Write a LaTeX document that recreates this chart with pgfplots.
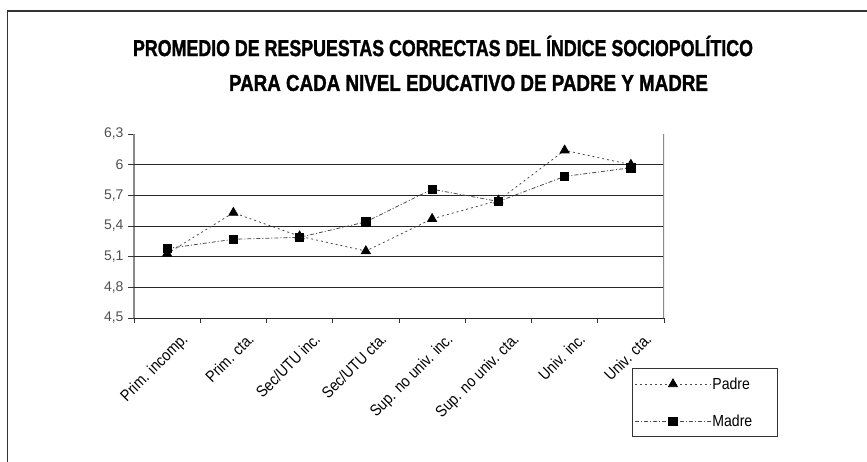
\documentclass[border=0pt]{standalone}
\usepackage{fontspec}
\setmainfont{Liberation Sans}
\newfontfamily\cond{Liberation Sans}[FakeStretch=0.88]
\newfontfamily\titlefont{Liberation Sans}[UprightFont=* Bold, FakeBold=1.5]
\usepackage{graphicx}
\usepackage{pgfplots}
\pgfplotsset{compat=1.18}
\definecolor{lgray}{HTML}{8A8A8A}
\definecolor{tgray}{HTML}{505050}
\definecolor{lnc}{HTML}{4A4A4A}
\begin{document}
\begin{tikzpicture}
\path[use as bounding box] (0,0) rectangle (867pt,-462pt);
\draw[line width=1.5pt,black!80] (7.5pt,-462pt) -- (7.5pt,-11pt) -- (867pt,-11pt);
\node[inner sep=0pt] at (443pt,-46pt) {\resizebox{620pt}{\height}{\titlefont\fontsize{23}{23}\selectfont PROMEDIO DE RESPUESTAS CORRECTAS DEL ÍNDICE SOCIOPOLÍTICO}};
\node[inner sep=0pt] at (468.5pt,-83pt) {\resizebox{479pt}{\height}{\titlefont\fontsize{23}{23}\selectfont PARA CADA NIVEL EDUCATIVO DE PADRE Y MADRE}};
\begin{axis}[
  at={(134pt,-318pt)}, anchor=south west,
  scale only axis, width=530pt, height=184pt,
  xmin=-0.5, xmax=7.5, ymin=4.5, ymax=6.3,
  axis x line*=bottom, axis y line*=left,
  x axis line style={black!85, line width=0.9pt, -},
  y axis line style={lgray, line width=1.2pt, -},
  tick align=outside,
  xtick={0,...,7},
  major x tick style={draw=none},
  minor xtick={-0.5,0.5,1.5,2.5,3.5,4.5,5.5,6.5,7.5},
  minor x tick style={black!80, line width=0.9pt},
  minor tick length=5pt,
  xticklabels={Prim. incomp.,Prim. cta.,Sec/UTU inc.,Sec/UTU cta.,Sup. no univ. inc.,Sup. no univ. cta.,Univ. inc.,Univ. cta.},
  x tick label style={rotate=45, anchor=north east, font=\cond\fontsize{16}{16}\selectfont, inner sep=1pt, xshift=5pt, yshift=-14pt},
  ytick={4.5,4.8,5.1,5.4,5.7,6.0,6.3},
  major y tick style={black!80, line width=0.9pt},
  major tick length=6pt,
  yticklabels={{4,5},{4,8},{5,1},{5,4},{5,7},6,{6,3}},
  y tick label style={font=\fontsize{14}{14}\selectfont, text=tgray, xshift=-1pt},
  extra y ticks={4.8,5.1,5.4,5.7,6.0},
  extra y tick labels={},
  extra y tick style={grid=major, major grid style={black!85, line width=0.9pt}},
  legend style={at={(0.9396,-0.2717)}, anchor=north west, draw=black!80, line width=1.2pt,
    inner xsep=2pt, inner ysep=8pt, row sep=22pt,
    nodes={inner sep=1pt, font=\cond\fontsize{16}{16}\selectfont}},
  legend cell align=left,
  legend image code/.code={\draw[mark repeat=2,mark phase=2,#1] plot coordinates {(0pt,0pt) (38pt,0pt) (76pt,0pt)};},
]
\draw[lgray, line width=1.2pt] (rel axis cs:1,0) -- (rel axis cs:1,1);
\addplot[lnc, line width=0.8pt, dash pattern=on 2pt off 3pt, mark=triangle*, mark size=5.2pt, mark options={solid, fill=black, draw=black}]
  coordinates {(0,5.13) (1,5.53) (2,5.30) (3,5.155) (4,5.47) (5,5.65) (6,6.14) (7,6.00)};
\addlegendentry{Padre\hspace*{22pt}}
\addplot[lnc, line width=0.8pt, dash pattern=on 4pt off 2pt on 1pt off 2pt, mark=square*, mark size=4.2pt, mark options={solid, fill=black, draw=black}]
  coordinates {(0,5.18) (1,5.27) (2,5.29) (3,5.44) (4,5.76) (5,5.64) (6,5.885) (7,5.97)};
\addlegendentry{Madre\hspace*{22pt}}
\end{axis}
\end{tikzpicture}
\end{document}
